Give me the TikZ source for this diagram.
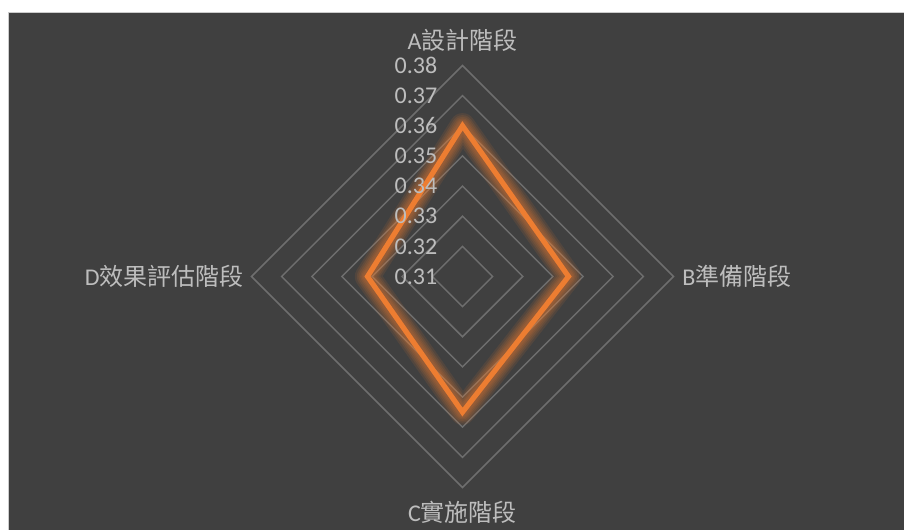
\documentclass[tikz,border=0pt]{standalone}
\usepackage{fontspec}
\usetikzlibrary{calc}
\setmainfont{Carlito}
\newfontfamily\cjk{Noto Sans CJK TC}
\definecolor{bg}{HTML}{404040}
\definecolor{gridc}{HTML}{6E6E6E}
\definecolor{txt}{HTML}{BDBDBD}
\definecolor{ora}{HTML}{ED7D31}
\tikzset{
  gridline/.style={draw=gridc, line width=1.1pt, line join=miter},
  vlab/.style={text=txt, font=\fontsize{18}{20}\selectfont, anchor=east, inner sep=0pt},
  clab/.style={text=txt, font=\fontsize{18}{20}\selectfont, inner sep=0pt},
  glow/.style={draw=ora, line join=round, opacity=0.11},
  series/.style={draw=ora, line width=3.9pt, line join=miter}
}
\begin{document}
\begin{tikzpicture}[x=0.75pt,y=-0.75pt]
\useasboundingbox (0,0) rectangle (904,530);
\fill[white] (0,0) rectangle (904,530);
\draw[fill=bg, draw=black!20, line width=0.8pt] (8.5,12.5) rectangle (906,532);
\coordinate (O) at (462.5,276.5);
% grid
\foreach \k in {1,...,7}{
  \pgfmathsetmacro{\r}{\k*30.14}
  \draw[gridline, shift={(O)}] (0,-\r) -- (\r,0) -- (0,\r) -- (-\r,0) -- cycle;
}
% data points
\coordinate (pA) at ($(O)+(0,-150.7)$);
\coordinate (pB) at ($(O)+(106,0)$);
\coordinate (pC) at ($(O)+(0,135.6)$);
\coordinate (pD) at ($(O)+(-95,0)$);
% glow
\foreach \w in {19,16,13.5,11,9,7}{
  \draw[glow, line width=\w pt] (pA) -- (pB) -- (pC) -- (pD) -- cycle;
}
\draw[series] (pA) -- (pB) -- (pC) -- (pD) -- cycle;
% value labels
\foreach \k [evaluate=\k as \n using int(\k+1)] in {0,...,7}{
  \node[vlab] (v\k) at (437.5, 276.5-\k*30.14) {0.3\n};
}
% category labels
\node[clab] (cA) at (462.5,40) {A{\cjk 設計階段}};
\node[clab, anchor=west] (cB) at (682,276) {B{\cjk 準備階段}};
\node[clab] (cC) at (462.5,512) {C{\cjk 實施階段}};
\node[clab, anchor=east] (cD) at (244,276) {D{\cjk 效果評估階段}};
\end{tikzpicture}
\end{document}
